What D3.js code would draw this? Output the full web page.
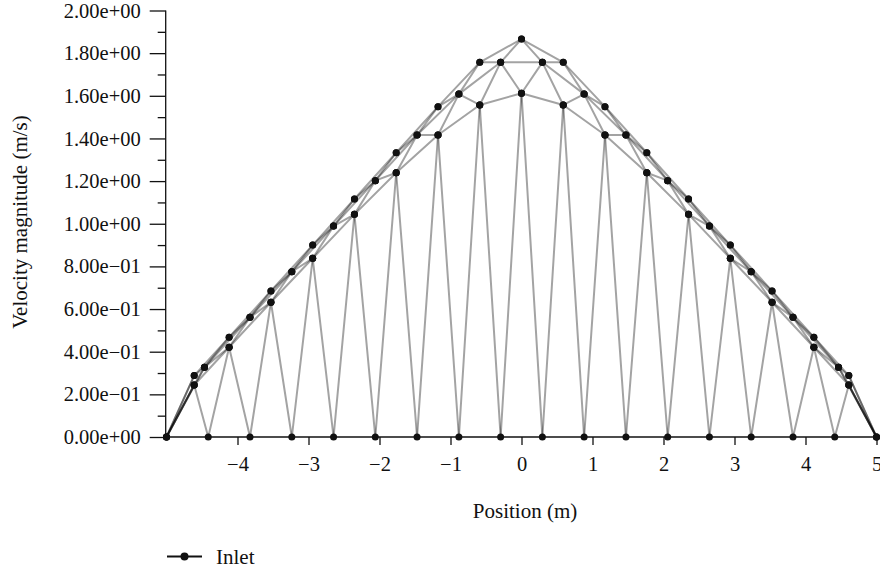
<!DOCTYPE html>
<html>
<head>
<meta charset="utf-8">
<script src="https://cdn.jsdelivr.net/npm/d3@7"></script>
<style>
  html, body { margin: 0; padding: 0; background: #fff; }
  svg { display: block; font-family: "Liberation Serif", "Times New Roman", serif; }
</style>
</head>
<body>
<svg id="chart" width="880" height="573"></svg>
<script>
// Inlet velocity magnitude sampled at the mesh nodes of the inlet face.
// Wall nodes (zero velocity)
const wallPos = [-5, -4.412, -3.824, -3.235, -2.647, -2.059, -1.471, -0.882, -0.294,
                 0.294, 0.882, 1.471, 2.059, 2.647, 3.235, 3.824, 4.412, 5];
const wallVel = [0, 0, 0, 0, 0, 0, 0, 0, 0, 0, 0, 0, 0, 0, 0, 0, 0, 0];
// Interior nodes at element centres (first and second layer)
const cellPos = [-4.61, -4.118, -3.529, -2.941, -2.353, -1.765, -1.176, -0.588, 0,
                 0.588, 1.176, 1.765, 2.353, 2.941, 3.529, 4.118, 4.61];
const innerVel = [0.244, 0.421, 0.632, 0.838, 1.044, 1.239, 1.416, 1.557, 1.612,
                  1.557, 1.416, 1.239, 1.044, 0.838, 0.632, 0.421, 0.244];
const outerVel = [0.288, 0.468, 0.685, 0.900, 1.116, 1.333, 1.549, 1.757, 1.866,
                  1.757, 1.549, 1.333, 1.116, 0.900, 0.685, 0.468, 0.288];
// Interior nodes at element corners
const midPos = [-4.465, -3.824, -3.235, -2.647, -2.059, -1.471, -0.882, -0.294,
                0.294, 0.882, 1.471, 2.059, 2.647, 3.235, 3.824, 4.465];
const midVel = [0.327, 0.561, 0.775, 0.989, 1.202, 1.416, 1.608, 1.757,
                1.757, 1.608, 1.416, 1.202, 0.989, 0.775, 0.561, 0.327];

const xTicks = [-5, -4, -3, -2, -1, 0, 1, 2, 3, 4, 5];
const xTickLabels = ["\u22125", "\u22124", "\u22123", "\u22122", "\u22121", "0", "1", "2", "3", "4", "5"];
const yTicks = [0, 0.2, 0.4, 0.6, 0.8, 1.0, 1.2, 1.4, 1.6, 1.8, 2.0];
const yTickLabels = ["0.00e+00", "2.00e\u221201", "4.00e\u221201", "6.00e\u221201", "8.00e\u221201",
                     "1.00e+00", "1.20e+00", "1.40e+00", "1.60e+00", "1.80e+00", "2.00e+00"];
const yMinorTicks = [0.1, 0.3, 0.5, 0.7, 0.9, 1.1, 1.3, 1.5, 1.7, 1.9];
const seriesName = "Inlet";

const svg = d3.select("#chart");
const x = d3.scaleLinear().domain([-5, 5]).range([166.5, 876.5]);
const y = d3.scaleLinear().domain([0, 2]).range([437, 10.5]);

// Nodes in the order the solver wrote them out (face connectivity order)
const W = i => [wallPos[i], wallVel[i]];
const I = i => [cellPos[i], innerVel[i]];
const O = i => [cellPos[i], outerVel[i]];
const M = i => [midPos[i], midVel[i]];
const nodes = [];
for (let i = 0; i < cellPos.length; i++) { nodes.push(W(i), I(i)); }
nodes.push(W(wallPos.length - 1));
for (let i = cellPos.length - 1; i >= 0; i--) { nodes.push(I(i)); if (i > 0) nodes.push(M(i - 1)); }
nodes.push(W(0));
for (let i = 0; i < cellPos.length; i++) { nodes.push(O(i)); if (i < midPos.length) nodes.push(M(i)); }
nodes.push(W(wallPos.length - 1));
for (let i = cellPos.length - 1; i >= 0; i--) nodes.push(O(i));
nodes.push(W(0));
for (let i = 0; i < cellPos.length; i++) nodes.push(I(i));
nodes.push(W(wallPos.length - 1));
for (let i = midPos.length - 1; i >= 0; i--) nodes.push(M(i));
nodes.push(W(0));

// Axes
const axisColor = "#111";
const gy = svg.append("g").attr("transform", `translate(${x(-5) - 0.8},0)`);
gy.call(d3.axisLeft(y).tickValues(yTicks).tickSize(16).tickPadding(9)
    .tickFormat((d, i) => yTickLabels[i]));
gy.append("g").call(d3.axisLeft(y).tickValues(yMinorTicks).tickSize(8).tickFormat(""))
  .select(".domain").remove();
gy.selectAll(".domain").attr("d", `M0,${y(2)}V${y(0)}`);

const gx = svg.append("g").attr("transform", `translate(0,${y(0)})`);
gx.call(d3.axisBottom(x).tickValues(xTicks.slice(1)).tickSize(8).tickPadding(11)
    .tickFormat(d => xTickLabels[xTicks.indexOf(d)]));
gx.select(".domain").attr("d", `M${x(-5) - 0.8},0H880`);

svg.selectAll(".tick line, .domain").attr("stroke", axisColor).attr("stroke-width", 1.3);
svg.selectAll(".tick text").attr("fill", "#111")
   .style("font-family", '"Liberation Serif", "Times New Roman", serif')
   .style("font-size", "20.5px");

// Connecting line segments
const segs = d3.pairs(nodes);
svg.append("g").selectAll("line").data(segs).join("line")
  .attr("x1", d => x(d[0][0])).attr("y1", d => y(d[0][1]))
  .attr("x2", d => x(d[1][0])).attr("y2", d => y(d[1][1]))
  .attr("stroke", "#000").attr("stroke-opacity", 0.36).attr("stroke-width", 2)
  .attr("stroke-linecap", "round");

// Node markers
svg.append("g").selectAll("circle").data(nodes).join("circle")
  .attr("cx", d => x(d[0])).attr("cy", d => y(d[1])).attr("r", 3.5)
  .attr("fill", "#111");

// Axis titles
svg.append("text").attr("x", 525).attr("y", 518).attr("text-anchor", "middle")
  .style("font-size", "21px").attr("fill", "#111").text("Position (m)");
svg.append("text").attr("transform", "translate(27,222) rotate(-90)")
  .attr("text-anchor", "middle").style("font-size", "21px").attr("fill", "#111")
  .text("Velocity magnitude (m/s)");

// Legend
const lg = svg.append("g").attr("transform", "translate(0,556.5)");
lg.append("line").attr("x1", 167).attr("x2", 202).attr("y1", 0).attr("y2", 0)
  .attr("stroke", "#111").attr("stroke-width", 2);
lg.append("circle").attr("cx", 184.5).attr("cy", 0).attr("r", 4).attr("fill", "#111");
lg.append("text").attr("x", 216).attr("y", 7).style("font-size", "21px")
  .attr("fill", "#111").text(seriesName);
</script>
</body>
</html>
